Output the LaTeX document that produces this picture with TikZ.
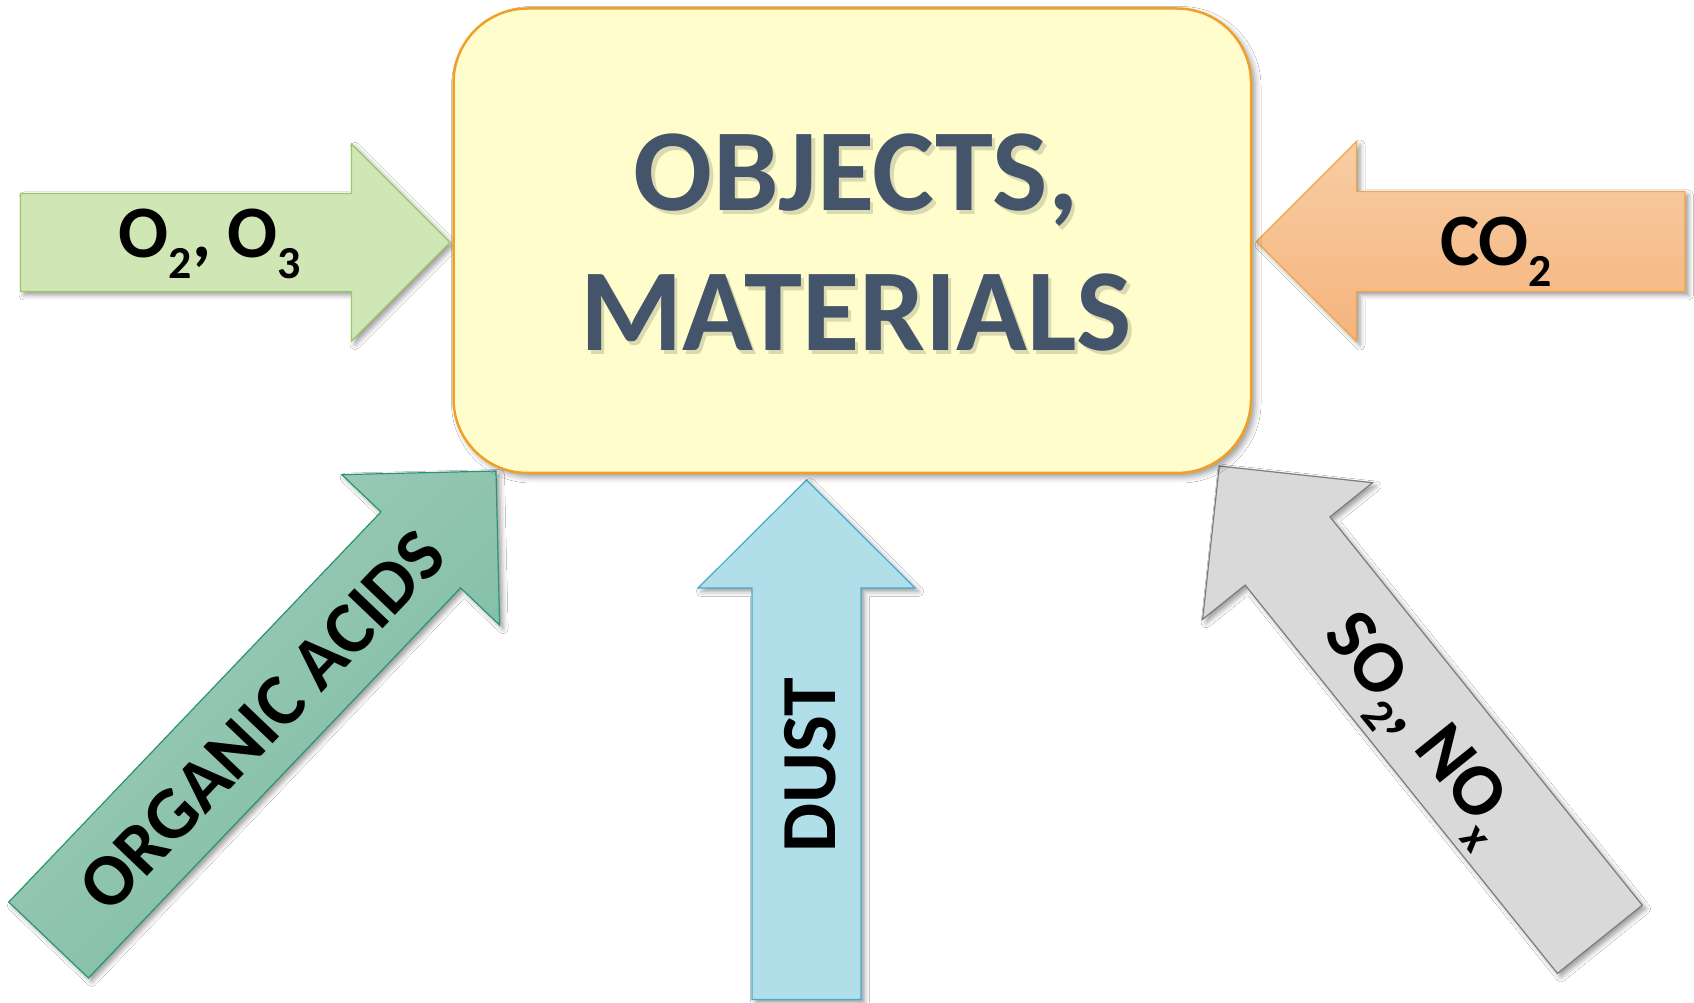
\documentclass[tikz,border=0pt]{standalone}
\usepackage{fontspec}
\setmainfont{Carlito}
\usetikzlibrary{shadows.blur}

\definecolor{boxfill}{RGB}{255,253,204}
\definecolor{boxline}{RGB}{240,160,40}
\definecolor{titleblue}{RGB}{68,84,106}
\definecolor{oxfill}{RGB}{209,230,181}
\definecolor{oxline}{RGB}{155,200,105}
\definecolor{cotop}{RGB}{248,205,163}
\definecolor{cobot}{RGB}{245,180,125}
\definecolor{coline}{RGB}{240,165,70}
\definecolor{orgtop}{RGB}{162,206,187}
\definecolor{orgbot}{RGB}{122,186,160}
\definecolor{orgline}{RGB}{40,150,115}
\definecolor{dustfill}{RGB}{176,223,233}
\definecolor{dustline}{RGB}{70,170,205}
\definecolor{soxfill}{RGB}{217,217,217}
\definecolor{soxline}{RGB}{125,125,125}

% lowered, reduced subscript for chemical formulas
\newcommand\chemsub[1]{\raisebox{-0.28em}{\scalebox{0.62}{#1}}}

% block arrow: #1 name, #2 style, #3/#4 tail centre, #5 direction,
% #6 total length, #7 shaft half width, #8 head half width, #9 head length
\newcommand\blockarrow[9]{%
  \pgfmathsetmacro\arrC{cos(#5)}%
  \pgfmathsetmacro\arrS{sin(#5)}%
  \pgfmathsetmacro\arrB{#6-#9}%
  \coordinate (#1-a) at ({#3+#7*(\arrS)},{#4-#7*(\arrC)});
  \coordinate (#1-b) at ({#3+\arrB*(\arrC)+#7*(\arrS)},{#4+\arrB*(\arrS)-#7*(\arrC)});
  \coordinate (#1-c) at ({#3+\arrB*(\arrC)+#8*(\arrS)},{#4+\arrB*(\arrS)-#8*(\arrC)});
  \coordinate (#1-tip) at ({#3+#6*(\arrC)},{#4+#6*(\arrS)});
  \coordinate (#1-e) at ({#3+\arrB*(\arrC)-#8*(\arrS)},{#4+\arrB*(\arrS)+#8*(\arrC)});
  \coordinate (#1-f) at ({#3+\arrB*(\arrC)-#7*(\arrS)},{#4+\arrB*(\arrS)+#7*(\arrC)});
  \coordinate (#1-g) at ({#3-#7*(\arrS)},{#4+#7*(\arrC)});
  \path[#2] (#1-a) -- (#1-b) -- (#1-c) -- (#1-tip) -- (#1-e) -- (#1-f) -- (#1-g) -- cycle;
}

\begin{document}
\begin{tikzpicture}[x=1pt,y=1pt,
  softshadow/.style={blur shadow={shadow xshift=3.5pt,shadow yshift=-3.5pt,
      shadow blur radius=5pt,shadow opacity=40}},
  blockedge/.style={line width=1.2pt,line join=miter,softshadow},
  lbl/.style={text=black,inner sep=0pt,font=\fontsize{74}{80}\selectfont\bfseries},
  title/.style={text=titleblue,inner sep=0pt,anchor=base,
      font=\fontsize{117}{140}\selectfont\bfseries},
  titleshade/.style={title,text=black,opacity=0.14}]

\useasboundingbox (0,0) rectangle (1694,1002);
\fill[white] (0,0) rectangle (1694,1002);

% incoming agents
\blockarrow{ox}{blockedge,draw=oxline,fill=oxfill}{20.5}{759.5}{0}{429.5}{49}{98.5}{98.5}
\blockarrow{co}{blockedge,draw=coline,top color=cotop,bottom color=cobot}{1685}{760.5}{180}{428.5}{50}{100}{100}
\blockarrow{dust}{blockedge,draw=dustline,fill=dustfill}{806.5}{2.6}{90}{519.4}{54.5}{108.5}{108}
\blockarrow{org}{blockedge,draw=orgline,top color=orgtop,bottom color=orgbot,shading angle=45}{48.6}{62}{46.35}{648.2}{55}{109}{109}
\blockarrow{sox}{blockedge,draw=soxline,fill=soxfill}{1599.8}{62.7}{128.8}{607.3}{54.4}{109}{109}

% central box
\node[draw=boxline,line width=2.5pt,fill=boxfill,rounded corners=74pt,
      minimum width=797.5pt,minimum height=464.5pt,
      blur shadow={shadow xshift=4pt,shadow yshift=-4pt,shadow blur radius=6pt,shadow opacity=40}]
      (box) at (852.25,761.25) {};

% title with a soft drop shadow
\node[titleshade] (ts1) at (859.5,787.5) {OBJECTS,};
\node[titleshade] (ts2) at (859.5,647.5) {MATERIALS};
\node[title] (t1) at (856,791) {OBJECTS,};
\node[title] (t2) at (856,651) {MATERIALS};

% arrow labels
\node[lbl,anchor=base] (oxlbl) at (210,744) {O\chemsub{2}, O\chemsub{3}};
\node[lbl,anchor=base] (colbl) at (1496,736) {CO\chemsub{2}};
\node[lbl,rotate=90,font=\fontsize{78}{84}\selectfont\bfseries] (dustlbl) at (809.7,236.5) {DUST};
\node[lbl,rotate=46.35] (orglbl) at (262,281) {ORGANIC ACIDS};
\node[lbl,rotate=-51.2] (soxlbl) at (1416,272) {SO\chemsub{2}, NO\chemsub{x}};
\end{tikzpicture}
\end{document}
